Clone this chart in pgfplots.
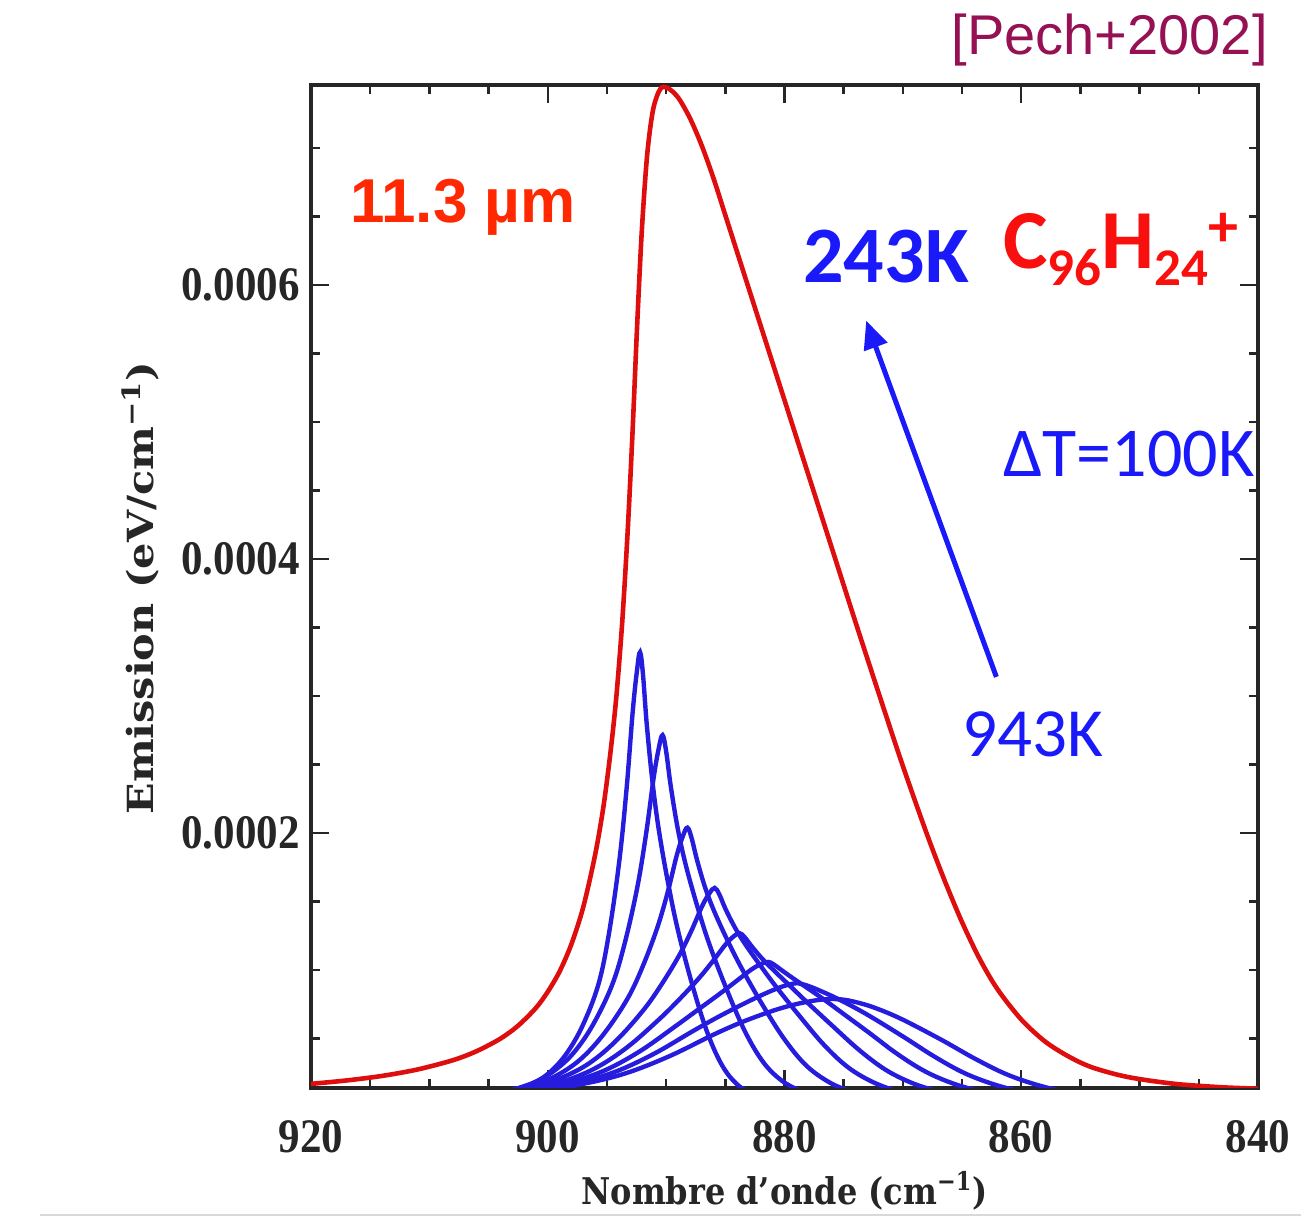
\documentclass[border=0pt]{standalone}
\usepackage{pgfplots}
\pgfplotsset{compat=1.18}
\usepackage{fontspec}
\setmainfont{Liberation Serif}
\newfontfamily\calib{Carlito}
\newfontfamily\helv{Liberation Sans}
\newfontfamily\idlfont{DejaVu Serif}
\usetikzlibrary{arrows.meta}

\definecolor{bandred}{RGB}{222,14,14}
\definecolor{bandblue}{RGB}{38,28,222}
\definecolor{labred}{RGB}{255,40,0}
\definecolor{labblue}{RGB}{25,25,250}
\definecolor{formred}{RGB}{250,15,15}
\definecolor{citemaroon}{RGB}{150,16,84}
\definecolor{axisgray}{RGB}{38,38,38}

\newcommand{\tl}[1]{\scalebox{1}[1.12]{#1}}

\begin{document}
\begin{tikzpicture}
\path[use as bounding box] (0,0) rectangle (650.5pt,609pt);
\draw[gray!30, line width=0.8pt] (20pt,1.5pt) -- (650.5pt,1.5pt);

\begin{axis}[
  at={(155.5pt,65pt)}, anchor=south west,
  scale only axis, width=473.5pt, height=501.5pt,
  x dir=reverse,
  xmin=840, xmax=920, ymin=0.14, ymax=7.46,
  xtick={840,860,880,900,920},
  xticklabels={{\tl{840}},{\tl{860}},{\tl{880}},{\tl{900}},{\tl{920}}},
  minor xtick={845,850,855,865,870,875,885,890,895,905,910,915},
  ytick={2,4,6},
  yticklabels={{\tl{0.0002}},{\tl{0.0004}},{\tl{0.0006}}},
  minor ytick={0.5,1,1.5,2.5,3,3.5,4.5,5,5.5,6.5,7},
  tick pos=both, xticklabel pos=lower, yticklabel pos=left,
  tick align=inside,
  major tick length=9pt, minor tick length=4.5pt,
  tick style={axisgray, line width=1.2pt},
  axis line style={axisgray, line width=1.6pt},
  /pgf/number format/assume math mode=true,
  tick label style={font=\bfseries\fontsize{21.5}{22}\selectfont, text=axisgray},
  xticklabel style={inner sep=0pt, yshift=-16pt},
  yticklabel style={inner sep=0pt, xshift=-5.5pt},
]

% cooling sequence 243 K ... 943 K in steps of 100 K, emission in 1e-4 eV/cm-1
\pgfplotsset{band/.style={bandblue, line width=2.2pt, smooth, tension=0.6, no marks}}

\addplot[band] coordinates {(903.64,0.100) (902.32,0.133) (901.0,0.183) (899.68,0.266) (898.36,0.398) (897.04,0.598) (895.72,0.896) (894.84,1.262) (893.96,1.793) (893.34,2.324) (892.82,2.888) (892.46,3.187) (892.2,3.32) (891.95,3.154) (891.63,2.789) (891.13,2.357) (890.56,1.992) (889.74,1.594) (888.92,1.262) (887.69,0.863) (886.46,0.531) (885.23,0.299) (884.0,0.166) (882.77,0.100) (881.54,0.066)};
\addplot[band] coordinates {(904.21,0.100) (902.61,0.136) (901.0,0.187) (899.40,0.269) (897.79,0.399) (896.19,0.600) (894.58,0.888) (893.51,1.192) (892.44,1.602) (891.69,1.996) (891.05,2.405) (890.62,2.620) (890.3,2.715) (890.0,2.598) (889.6,2.338) (889.0,2.025) (888.3,1.754) (887.3,1.447) (886.3,1.178) (884.8,0.842) (883.3,0.546) (881.8,0.329) (880.3,0.198) (878.8,0.125) (877.3,0.081)};
\addplot[band] coordinates {(904.84,0.090) (902.92,0.122) (901.0,0.167) (899.08,0.239) (897.16,0.355) (895.24,0.537) (893.32,0.783) (892.04,1.014) (890.76,1.306) (889.86,1.571) (889.10,1.838) (888.58,1.979) (888.2,2.04) (887.85,1.965) (887.38,1.801) (886.68,1.597) (885.86,1.414) (884.69,1.195) (883.52,0.998) (881.77,0.734) (880.01,0.496) (878.26,0.312) (876.5,0.196) (874.75,0.124) (872.99,0.082)};
\addplot[band] coordinates {(905.53,0.082) (903.27,0.112) (901.0,0.154) (898.74,0.218) (896.47,0.322) (894.21,0.486) (891.94,0.706) (890.43,0.890) (888.92,1.104) (887.86,1.288) (886.96,1.467) (886.35,1.560) (885.9,1.60) (885.5,1.552) (884.98,1.446) (884.18,1.310) (883.26,1.182) (881.94,1.022) (880.62,0.869) (878.64,0.656) (876.66,0.454) (874.68,0.294) (872.7,0.190) (870.72,0.123) (868.74,0.080)};
\addplot[band] coordinates {(906.16,0.075) (903.58,0.102) (901.0,0.138) (898.42,0.196) (895.84,0.291) (893.26,0.439) (890.68,0.634) (888.96,0.780) (887.24,0.940) (886.04,1.067) (885.0,1.185) (884.32,1.245) (883.8,1.27) (883.37,1.241) (882.79,1.176) (881.92,1.087) (880.9,0.998) (879.45,0.878) (878.0,0.758) (875.83,0.584) (873.65,0.414) (871.48,0.274) (869.3,0.179) (867.13,0.118) (864.95,0.076)};
\addplot[band] coordinates {(906.88,0.070) (903.94,0.095) (901.0,0.130) (898.06,0.183) (895.12,0.271) (892.18,0.410) (889.24,0.589) (887.28,0.713) (885.32,0.837) (883.95,0.928) (882.77,1.006) (881.99,1.044) (881.4,1.06) (880.93,1.043) (880.31,1.004) (879.37,0.946) (878.28,0.882) (876.72,0.789) (875.16,0.690) (872.82,0.541) (870.48,0.389) (868.14,0.262) (865.8,0.174) (863.46,0.116) (861.12,0.074)};
\addplot[band] coordinates {(907.63,0.066) (904.32,0.091) (901.0,0.123) (897.69,0.173) (894.37,0.256) (891.06,0.388) (887.74,0.555) (885.53,0.662) (883.32,0.760) (881.77,0.824) (880.45,0.872) (879.56,0.896) (878.9,0.905) (878.41,0.896) (877.75,0.877) (876.76,0.841) (875.6,0.795) (873.95,0.721) (872.3,0.639) (869.83,0.507) (867.35,0.370) (864.88,0.252) (862.4,0.169) (859.93,0.112) (857.45,0.072)};
\addplot[band] coordinates {(908.5,0.063) (904.75,0.087) (901.0,0.119) (897.25,0.166) (893.5,0.245) (889.75,0.371) (886.0,0.529) (883.5,0.624) (881.0,0.703) (879.25,0.747) (877.75,0.774) (876.75,0.786) (876.0,0.79) (875.48,0.788) (874.8,0.782) (873.76,0.762) (872.56,0.731) (870.84,0.672) (869.12,0.600) (866.54,0.482) (863.96,0.356) (861.38,0.245) (858.8,0.166) (856.22,0.111) (853.64,0.071)};

% integrated band profile
\addplot[bandred, line width=2.3pt, smooth, no marks] coordinates {
(920,0.170) (917,0.195) (914,0.228) (911,0.275) (908,0.343) (906,0.409)
(904,0.50) (902.5,0.595) (901,0.724) (900,0.842) (899,0.99) (898,1.19)
(897,1.46) (896,1.84) (895.3,2.19) (894.7,2.59) (894.2,3.0) (893.7,3.55)
(893.25,4.2) (892.85,4.9) (892.45,5.7) (892.05,6.4) (891.6,6.95) (891.1,7.28)
(890.5,7.43) (889.9,7.44)
(889.0,7.37) (888.0,7.22) (887.0,7.02) (886.0,6.78) (885.0,6.51) (884.0,6.24)
(882.0,5.70) (880.0,5.16) (878.0,4.62) (876.0,4.08) (874.0,3.54) (872.0,3.01)
(870.0,2.49) (868.0,2.00) (866.5,1.66) (865.0,1.35) (863.5,1.08) (862.0,0.86)
(860.0,0.64) (858.0,0.48) (856.0,0.37) (854.0,0.29) (851.0,0.22) (847.0,0.17)
(843.0,0.145) (840.0,0.135)};

% cooling direction
\draw[labblue, line width=2.5pt, -{Triangle[length=14pt,width=12pt]}]
  (axis cs:862.1,3.14) -- (axis cs:873.1,5.74);
\end{axis}

% annotations
\node[anchor=base east, inner sep=0, text=citemaroon,
  font=\helv\fontsize{28}{28}\selectfont] at (634pt,581.5pt) {[Pech+2002]};
\node[anchor=base west, inner sep=0, text=labred,
  font=\helv\bfseries\fontsize{31}{31}\selectfont] at (175pt,497.5pt) {11.3 µm};
\node[anchor=base west, inner sep=0, text=labblue,
  font=\calib\bfseries\fontsize{40}{40}\selectfont] at (401.5pt,467.5pt) {243K};
\node[anchor=base west, inner sep=0, text=formred] at (501.5pt,474.5pt)
  {\calib\bfseries\fontsize{42}{42}\selectfont C\raisebox{-8.5pt}{\fontsize{26.5}{27}\selectfont 96}H\raisebox{-8.5pt}{\fontsize{26.5}{27}\selectfont 24}\raisebox{11pt}{\fontsize{30}{30}\selectfont +}};
\node[anchor=base west, inner sep=0, text=labblue,
  font=\calib\fontsize{35}{35}\selectfont] at (501.5pt,370.5pt) {ΔT=100K};
\node[anchor=base west, inner sep=0, text=labblue,
  font=\calib\fontsize{34.5}{35}\selectfont] at (481pt,230.5pt) {943K};

% axis titles
\node[anchor=base, inner sep=0, text=axisgray] at (392.25pt,6.5pt)
  {\scalebox{1}[1.15]{\idlfont\bfseries\fontsize{16}{16}\selectfont Nombre d’onde (cm\textsuperscript{−1})}};
\node[rotate=90, anchor=base, inner sep=0, text=axisgray] at (76.5pt,315pt)
  {\scalebox{1.15}[1]{\idlfont\bfseries\fontsize{18}{18}\selectfont Emission (eV/cm\textsuperscript{−1})}};
\end{tikzpicture}
\end{document}
